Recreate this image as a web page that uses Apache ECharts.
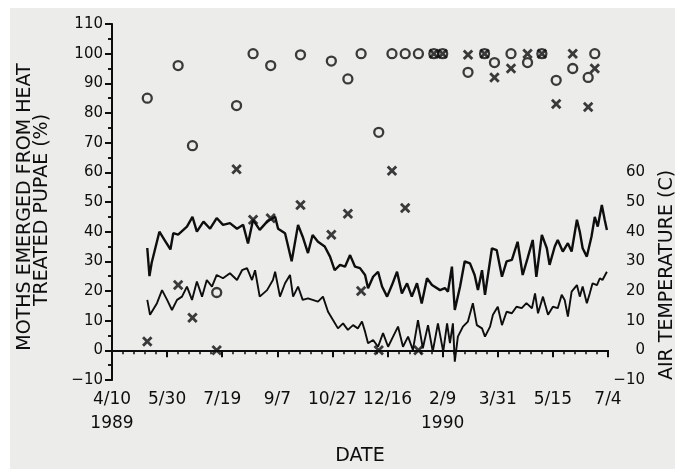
<!DOCTYPE html>
<html>
<head>
<meta charset="utf-8">
<script src="https://cdn.jsdelivr.net/npm/echarts@6/dist/echarts.min.js"></script>
<style>
html,body{margin:0;padding:0;background:#fff;overflow:hidden;}
#paper{position:absolute;left:10px;top:8px;width:665px;height:461px;background:#ececea;}
#chart{position:absolute;left:0;top:0;width:675px;height:469px;}
</style>
</head>
<body>
<div id="paper"></div>
<div id="chart"></div>
<script>
// x is days since 4/10/1989; tick labels every 50 days as printed
const xTickLabels = ['4/10\n1989','5/30','7/19','9/7','10/27','12/16','2/9\n1990','3/31','5/15','7/4'];

// sampling dates (days since 4/10/1989)
const sampleDays = [32,60,73,95,113,128,144,171,199,214,226,242,254,266,278,292,300,323,338,347,362,377,390,403,418,432,438];
// percent emerged, circle treatment
const circleVals = [85,96,69,19.5,82.5,100,96,99.6,97.5,91.5,100,73.5,100,100,100,100,100,93.7,100,97,100,97,100,91,95,92,100];
// percent emerged, cross treatment
const crossVals = [3,22,11,0,61,44,44.5,49,39,46,20,0,60.5,48,0,100,100,99.6,100,92,95,100,100,83,100,82,95];

// daily maximum air temperature (C)
const maxDays = [32,34,36,43,48,53,55.6,60,68,73,77,83,89,95,100.7,107,113.4,119,123.4,128,134,140.7,148,150.7,157,163,168.8,173,177.8,182,186.9,193,197.8,202,206.9,211.4,216,220.5,225,229.6,232.3,236.9,241.4,245,249.6,254,258.6,263,267.7,272,276.7,281,285.8,290.3,297.6,302,304.8,308.4,311,315.8,320,324.8,329,332,335.7,338.4,344.7,349,353.8,358,362.8,368,372.6,377,381.7,385,390,394.5,397,401.7,404.4,409,413.6,417,421.8,424.4,427,430.8,435,438,440.7,444.4,447,449];
const maxTemp = [34.5,25,29.5,40,37,34,39.5,39,41.7,45,40,43.4,41,44.6,42.3,42.9,41,42.3,36,44,40.6,43.4,45,41,39.5,30,42.3,38.3,32.8,38.9,36.6,35,31.6,27,28.8,28.2,32.1,28.2,27.7,25.4,20.9,24.8,26.5,21.5,18.1,22,26.5,19.2,22.6,18.1,22.6,15.8,24.3,22,20.3,21,19.8,28.2,13.6,21.5,30,29.3,25.4,20.3,27,18.7,34.4,33.8,24.8,30,30.5,36.6,25.4,31,37.2,24.8,38.9,34.4,28.8,35,37.2,33.3,36.1,33.3,44,40,34.4,31.6,38.3,45,41.7,49,44,40.6];

// daily minimum air temperature (C)
const minDays = [32,34.5,40.8,45.4,50,54.4,59,63.5,68,72.6,77,81.7,86,90.7,95,100.7,107,113.4,118,122.5,127,129.8,134,140.7,146,148,152.4,157,161.5,164.3,168.8,173,177.8,182,186.9,191.4,196,200.5,205,209.6,214,218.7,223,226.8,229.6,232.3,236.9,241.4,245.9,250.5,255,259.5,264,268.6,273,277.6,282,286.7,291,295.7,300.5,304,306.6,309.3,311,313.8,318.4,322.9,327.4,331,335.7,338.4,343,345.6,350,353.8,358,362.8,367,371.7,376,381,383.8,386.5,391,395.6,400,404.4,408,410.7,413.6,417,421.8,424.4,427,430.8,433.5,436,440,442.6,445,449];
const minTemp = [17,12,15.9,20.3,17,13.6,17,18.1,21.5,17,23.2,18.1,23.7,21.5,25.4,24.3,26,23.7,27,27.7,23.7,27,18.1,20.3,23.7,26.5,18.1,22.6,25.4,18.1,21.5,17,17.5,17,16.4,18.1,13,10.2,7.4,9.1,6.9,8.5,7.4,9.7,6.3,2.4,3.5,1.2,5.8,1.2,4.6,8,1.2,4.6,0.1,10.2,0.7,8.5,-0.4,9.1,-0.4,9.1,2.4,9.1,-3.8,4.6,8,9.7,15.9,8.5,7.4,4.6,8,12,14.7,8.5,13,12.5,14.7,14.2,15.9,14.2,19.2,12.5,18.1,12,14.7,14.2,18.7,17,11.4,19.8,22,18.1,21.5,15.9,19.2,22.6,22,24.3,23.7,26.5];

const zip = (a, b) => a.map((v, i) => [v, b[i]]);
const INK = '#0e0e0e';
const FONT = 'DejaVu Sans';
// filled X glyph
const crossPath = 'path://M0,1.9L1.9,0L5,3.1L8.1,0L10,1.9L6.9,5L10,8.1L8.1,10L5,6.9L1.9,10L0,8.1L3.1,5Z';

const chart = echarts.init(document.getElementById('chart'), null, {renderer: 'canvas', width: 675, height: 469});
chart.setOption({
  animation: false,
  backgroundColor: 'transparent',
  grid: {left: 112, right: 67, top: 24, bottom: 89, containLabel: false, outerBoundsMode: 'none'},
  xAxis: [{
    type: 'value', min: 0, max: 450, interval: 50, position: 'bottom',
    name: 'DATE', nameLocation: 'middle', nameGap: 67,
    nameTextStyle: {fontFamily: FONT, fontSize: 19, color: INK},
    axisLine: {lineStyle: {color: INK, width: 2}},
    axisTick: {length: 7, lineStyle: {color: INK, width: 2}},
    minorTick: {show: true, splitNumber: 5, length: 4, lineStyle: {color: INK, width: 1.5}},
    splitLine: {show: false},
    axisLabel: {margin: 8, fontFamily: FONT, fontSize: 17, color: INK, lineHeight: 24,
      formatter: v => xTickLabels[Math.round(v / 50)]}
  }, {
    type: 'value', min: 0, max: 450, interval: 50, position: 'top',
    axisLine: {lineStyle: {color: INK, width: 1.5}},
    axisTick: {inside: true, length: 6, lineStyle: {color: INK, width: 1.5}},
    minorTick: {show: true, splitNumber: 5, length: 3, lineStyle: {color: INK, width: 1.5}},
    splitLine: {show: false}, axisLabel: {show: false}
  }],
  yAxis: [{
    type: 'value', min: -10, max: 110, interval: 10, position: 'left',
    axisLine: {show: true, lineStyle: {color: INK, width: 2}},
    axisTick: {show: true, length: 7, lineStyle: {color: INK, width: 2}},
    minorTick: {show: true, splitNumber: 2, length: 4, lineStyle: {color: INK, width: 1.5}},
    splitLine: {show: false},
    axisLabel: {margin: 9, fontFamily: FONT, fontSize: 15, color: INK,
      formatter: v => (v < 0 ? '\u2212' + Math.abs(v) : String(v))}
  }, {
    type: 'value', min: -10, max: 110, interval: 10, position: 'right',
    axisLine: {show: true, lineStyle: {color: INK, width: 1.5}},
    axisTick: {show: true, inside: true, length: 5, lineStyle: {color: INK, width: 2}},
    minorTick: {show: true, splitNumber: 2, length: 4, lineStyle: {color: INK, width: 1.5}},
    splitLine: {show: false},
    axisLabel: {margin: 37, align: 'right', fontFamily: FONT, fontSize: 15, color: INK,
      formatter: v => (v > 60 ? '' : (v < 0 ? '\u2212' + Math.abs(v) : String(v)))}
  }],
  graphic: [
    {type: 'text', x: 25, y: 207, rotation: Math.PI / 2,
      style: {text: 'MOTHS EMERGED FROM HEAT', font: '19px "DejaVu Sans"', fill: INK, textAlign: 'center', textVerticalAlign: 'middle'}},
    {type: 'text', x: 42, y: 210, rotation: Math.PI / 2,
      style: {text: 'TREATED PUPAE (%)', font: '19px "DejaVu Sans"', fill: INK, textAlign: 'center', textVerticalAlign: 'middle'}},
    {type: 'text', x: 667, y: 275, rotation: Math.PI / 2,
      style: {text: 'AIR TEMPERATURE (C)', font: '19px "DejaVu Sans"', fill: INK, textAlign: 'center', textVerticalAlign: 'middle'}}
  ],
  series: [
    {type: 'line', name: 'max temp', xAxisIndex: 0, yAxisIndex: 1, data: zip(maxDays, maxTemp),
      showSymbol: false, lineStyle: {color: INK, width: 2.4}, z: 2},
    {type: 'line', name: 'min temp', xAxisIndex: 0, yAxisIndex: 1, data: zip(minDays, minTemp),
      showSymbol: false, lineStyle: {color: INK, width: 1.9}, z: 2},
    {type: 'scatter', name: 'circle', xAxisIndex: 0, yAxisIndex: 0, data: zip(sampleDays, circleVals),
      symbol: 'circle', symbolSize: 9,
      itemStyle: {color: 'rgba(0,0,0,0)', borderColor: INK, borderWidth: 2.3}, z: 3},
    {type: 'scatter', name: 'cross', xAxisIndex: 0, yAxisIndex: 0, data: zip(sampleDays, crossVals),
      symbol: crossPath, symbolSize: 10.5,
      itemStyle: {color: INK, borderWidth: 0}, z: 4}
  ]
});
</script>
</body>
</html>
